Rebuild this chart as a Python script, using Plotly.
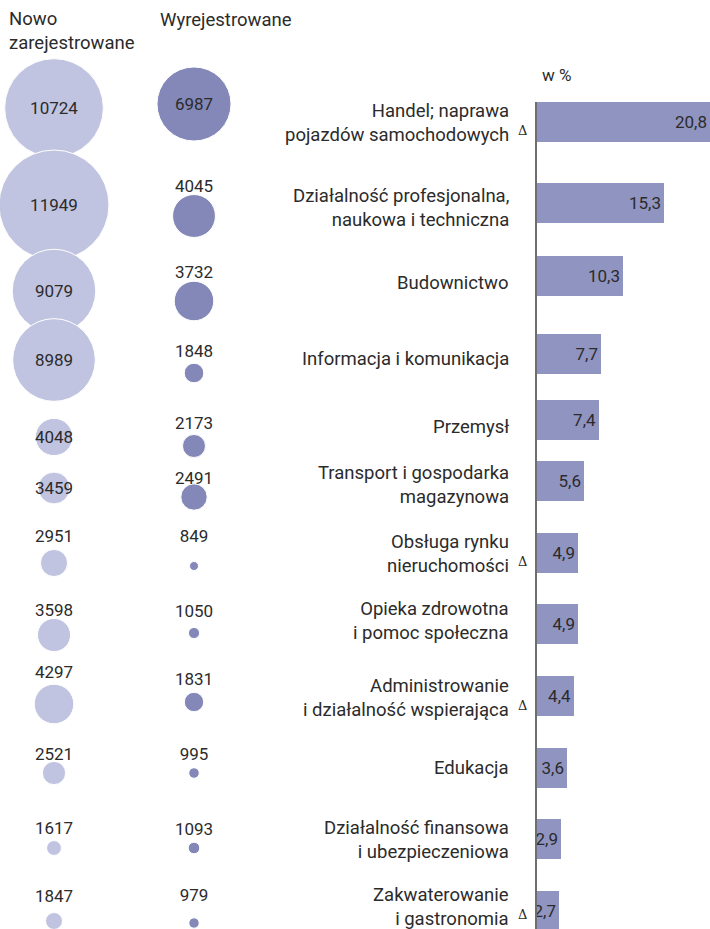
import plotly.graph_objects as go

# --- data -------------------------------------------------------------
sections = [
    "Handel; naprawa<br>pojazdów samochodowych",
    "Działalność profesjonalna,<br>naukowa i techniczna",
    "Budownictwo",
    "Informacja i komunikacja",
    "Przemysł",
    "Transport i gospodarka<br>magazynowa",
    "Obsługa rynku<br>nieruchomości",
    "Opieka zdrowotna<br>i pomoc społeczna",
    "Administrowanie<br>i działalność wspierająca",
    "Edukacja",
    "Działalność finansowa<br>i ubezpieczeniowa",
    "Zakwaterowanie<br>i gastronomia",
]
newly_registered = [10724, 11949, 9079, 8989, 4048, 3459, 2951, 3598, 4297, 2521, 1617, 1847]
deregistered = [6987, 4045, 3732, 1848, 2173, 2491, 849, 1050, 1831, 995, 1093, 979]
share_pct = [20.8, 15.3, 10.3, 7.7, 7.4, 5.6, 4.9, 4.9, 4.4, 3.6, 2.9, 2.7]
footnote_delta = [True, False, False, False, False, False, True, False, True, False, False, True]

# --- layout (y in pixel-like units, top = 0) --------------------------
W, H = 710, 929
bar_row_y = [122, 203, 276, 354, 420, 481, 553, 624, 696, 768, 839, 911]
label_y = [123, 208, 283, 359, 427, 485, 554, 621, 698, 768, 840, 907]
new_dot_y = [108, 205, 291, 360, 437, 488, 563, 635, 704, 773, 848, 921]
new_text_y = [110, 207, 293, 362, 439, 490, 538, 612, 674, 756, 830, 898]
del_dot_y = [104, 216, 301, 373, 446, 497, 566, 633, 702, 773, 848, 923]
del_text_y = [106, 188, 274, 353, 425, 480, 538, 613, 681, 756, 831, 897]
new_col_x, del_col_x = 54, 194
label_right_x = 511
axis_x = 537
axis_top = 102

FONT = "Roboto"
TXT = "#2b2b2b"
C_NEW = "#c1c4e0"
C_DEL = "#8388b9"
C_BAR = "#9094c1"
FS_NUM = 17
FS_LBL = 18.5

fig = go.Figure()

# bubbles: newly registered
fig.add_trace(go.Scatter(
    x=[new_col_x] * len(newly_registered), y=new_dot_y, mode="markers",
    marker=dict(size=newly_registered, sizemode="diameter", sizeref=1 / 0.0092,
                color=C_NEW, line=dict(width=1, color="white"), opacity=1),
    hoverinfo="skip", showlegend=False, xaxis="x", yaxis="y"))
fig.add_trace(go.Scatter(
    x=[new_col_x] * len(newly_registered), y=new_text_y, mode="text",
    text=[str(v) for v in newly_registered], textposition="middle center",
    textfont=dict(family=FONT, size=FS_NUM, color=TXT),
    hoverinfo="skip", showlegend=False, xaxis="x", yaxis="y"))

# bubbles: deregistered
fig.add_trace(go.Scatter(
    x=[del_col_x] * len(deregistered), y=del_dot_y, mode="markers",
    marker=dict(size=deregistered, sizemode="diameter", sizeref=1 / 0.0106,
                color=C_DEL, line=dict(width=1, color="white"), opacity=1),
    hoverinfo="skip", showlegend=False, xaxis="x", yaxis="y"))
fig.add_trace(go.Scatter(
    x=[del_col_x] * len(deregistered), y=del_text_y, mode="text",
    text=[str(v) for v in deregistered], textposition="middle center",
    textfont=dict(family=FONT, size=FS_NUM, color=TXT),
    hoverinfo="skip", showlegend=False, xaxis="x", yaxis="y"))

# horizontal bars with shares
fig.add_trace(go.Bar(
    x=share_pct, y=bar_row_y, orientation="h", width=40,
    marker=dict(color=C_BAR, line=dict(width=0)),
    text=[f"{v:.1f}".replace(".", ",") for v in share_pct],
    textposition="inside", insidetextanchor="end", constraintext="none",
    textangle=0, textfont=dict(family=FONT, size=FS_NUM, color=TXT),
    hoverinfo="skip", showlegend=False, xaxis="x2", yaxis="y2"))

annotations = []
for name, y, flag in zip(sections, label_y, footnote_delta):
    annotations.append(dict(
        x=label_right_x, y=y, xref="x", yref="y", text=name, showarrow=False,
        xanchor="right", yanchor="middle", align="right",
        font=dict(family=FONT, size=FS_LBL, color=TXT)))
    if flag:
        annotations.append(dict(
            x=label_right_x + 11, y=y + 7, xref="x", yref="y", text="Δ",
            showarrow=False, xanchor="center", yanchor="middle",
            font=dict(family="DejaVu Serif", size=13, color=TXT)))

annotations += [
    dict(x=7, y=31, xref="x", yref="y", text="Nowo<br>zarejestrowane",
         showarrow=False, xanchor="left", yanchor="middle", align="left",
         font=dict(family=FONT, size=FS_LBL, color=TXT)),
    dict(x=158, y=20, xref="x", yref="y", text="Wyrejestrowane",
         showarrow=False, xanchor="left", yanchor="middle", align="left",
         font=dict(family=FONT, size=FS_LBL, color=TXT)),
    dict(x=540, y=75, xref="x", yref="y", text="w %",
         showarrow=False, xanchor="left", yanchor="middle",
         font=dict(family=FONT, size=FS_NUM, color=TXT)),
]

fig.update_layout(
    width=W, height=H, margin=dict(l=0, r=0, t=0, b=0),
    paper_bgcolor="white", plot_bgcolor="rgba(0,0,0,0)",
    separators=", ", bargap=0,
    xaxis=dict(domain=[0, 1], range=[0, W], visible=False, fixedrange=True),
    yaxis=dict(domain=[0, 1], range=[H, 0], visible=False, fixedrange=True),
    xaxis2=dict(domain=[axis_x / W, 1], range=[0, max(share_pct)], visible=False,
                anchor="y2"),
    yaxis2=dict(domain=[0, (H - axis_top) / H], range=[H, axis_top], anchor="x2",
                showline=True, linecolor="#6e6e6e", linewidth=1.5,
                showticklabels=False, ticks="", showgrid=False, zeroline=False),
    annotations=annotations,
)

fig.write_html("out.html")
